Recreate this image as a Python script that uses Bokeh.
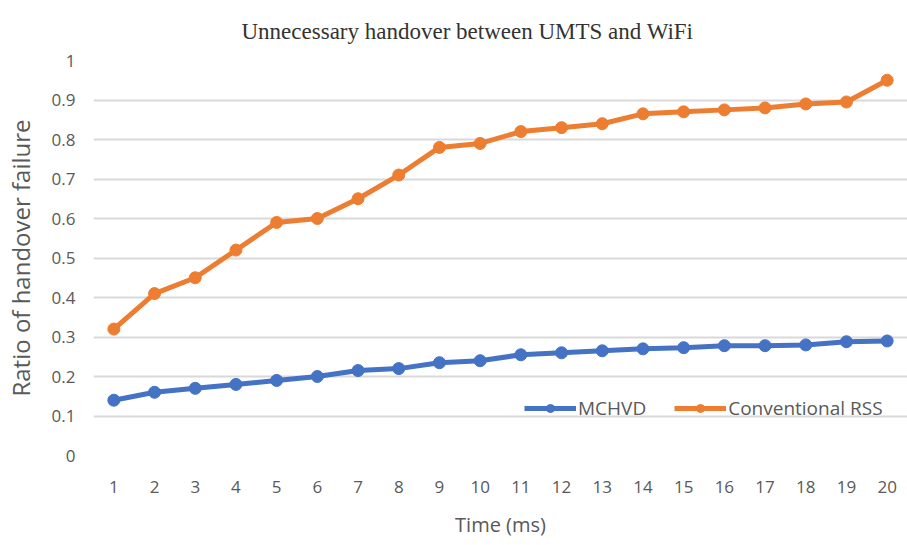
from bokeh.plotting import figure
from bokeh.models import FixedTicker, NumeralTickFormatter, Legend, LegendItem, Range1d
from bokeh.embed import file_html
from bokeh.resources import INLINE

time_ms = list(range(1, 21))
mchvd = [0.14, 0.16, 0.17, 0.18, 0.19, 0.20, 0.215, 0.22, 0.235, 0.24,
         0.255, 0.26, 0.265, 0.27, 0.273, 0.278, 0.278, 0.28, 0.288, 0.29]
conventional_rss = [0.32, 0.41, 0.45, 0.52, 0.59, 0.60, 0.65, 0.71, 0.78, 0.79,
                    0.82, 0.83, 0.84, 0.865, 0.87, 0.875, 0.88, 0.89, 0.895, 0.95]
y_ticks = [0, 0.1, 0.2, 0.3, 0.4, 0.5, 0.6, 0.7, 0.8, 0.9, 1.0]
title_text = "Unnecessary handover between UMTS and WiFi"

BLUE = "#4472C4"
ORANGE = "#ED7D31"
GRAY = "#595959"
FONT = "Open Sans"

p = figure(width=907, height=545, output_backend="svg", toolbar_location=None,
           x_range=Range1d(0.5, 20.5), y_range=Range1d(0, 1.0),
           min_border_left=90, min_border_right=0, min_border_top=60, min_border_bottom=90)
p.title.text = title_text
p.title.text_font = "Liberation Serif"
p.title.text_font_size = "23px"
p.title.text_font_style = "normal"
p.title.text_color = "#333333"
p.title.align = "left"
p.title.offset = 148
p.title.standoff = 33

p.outline_line_color = None
p.xgrid.grid_line_color = None
p.ygrid.grid_line_color = "#D9D9D9"
p.ygrid.grid_line_width = 2

p.xaxis.ticker = FixedTicker(ticks=time_ms)
p.yaxis.ticker = FixedTicker(ticks=y_ticks)
p.yaxis.formatter = NumeralTickFormatter(format="0.[0]")
for ax in (p.xaxis, p.yaxis):
    ax.axis_line_color = None
    ax.major_tick_line_color = None
    ax.minor_tick_line_color = None
    ax.major_label_text_font = FONT
    ax.major_label_text_font_size = "17px"
    ax.major_label_text_color = GRAY
    ax.axis_label_text_font = FONT
    ax.axis_label_text_font_style = "normal"
    ax.axis_label_text_color = GRAY
p.xaxis.axis_label_text_font_size = "20px"
p.yaxis.axis_label_text_font_size = "24px"
p.yaxis.major_label_standoff = 12
p.xaxis.major_label_standoff = 19
p.yaxis.axis_label = "Ratio of handover failure"
p.xaxis.axis_label = "Time (ms)"
p.yaxis.axis_label_standoff = 12
p.xaxis.axis_label_standoff = 15

l1 = p.line(time_ms, mchvd, line_color=BLUE, line_width=5)
c1 = p.scatter(time_ms, mchvd, size=12, fill_color=BLUE, line_color=BLUE)
l2 = p.line(time_ms, conventional_rss, line_color=ORANGE, line_width=5)
c2 = p.scatter(time_ms, conventional_rss, size=12, fill_color=ORANGE, line_color=ORANGE)

legend = Legend(items=[LegendItem(label="MCHVD", renderers=[l1, c1]),
                       LegendItem(label="Conventional RSS", renderers=[l2, c2])],
                orientation="horizontal", location=(431, 34),
                border_line_color=None, background_fill_alpha=0,
                label_text_font=FONT, label_text_font_size="19px", label_text_color=GRAY,
                glyph_width=52, spacing=28, label_standoff=2, padding=4)
p.add_layout(legend, "center")

open("out.html", "w").write(file_html(p, INLINE))
